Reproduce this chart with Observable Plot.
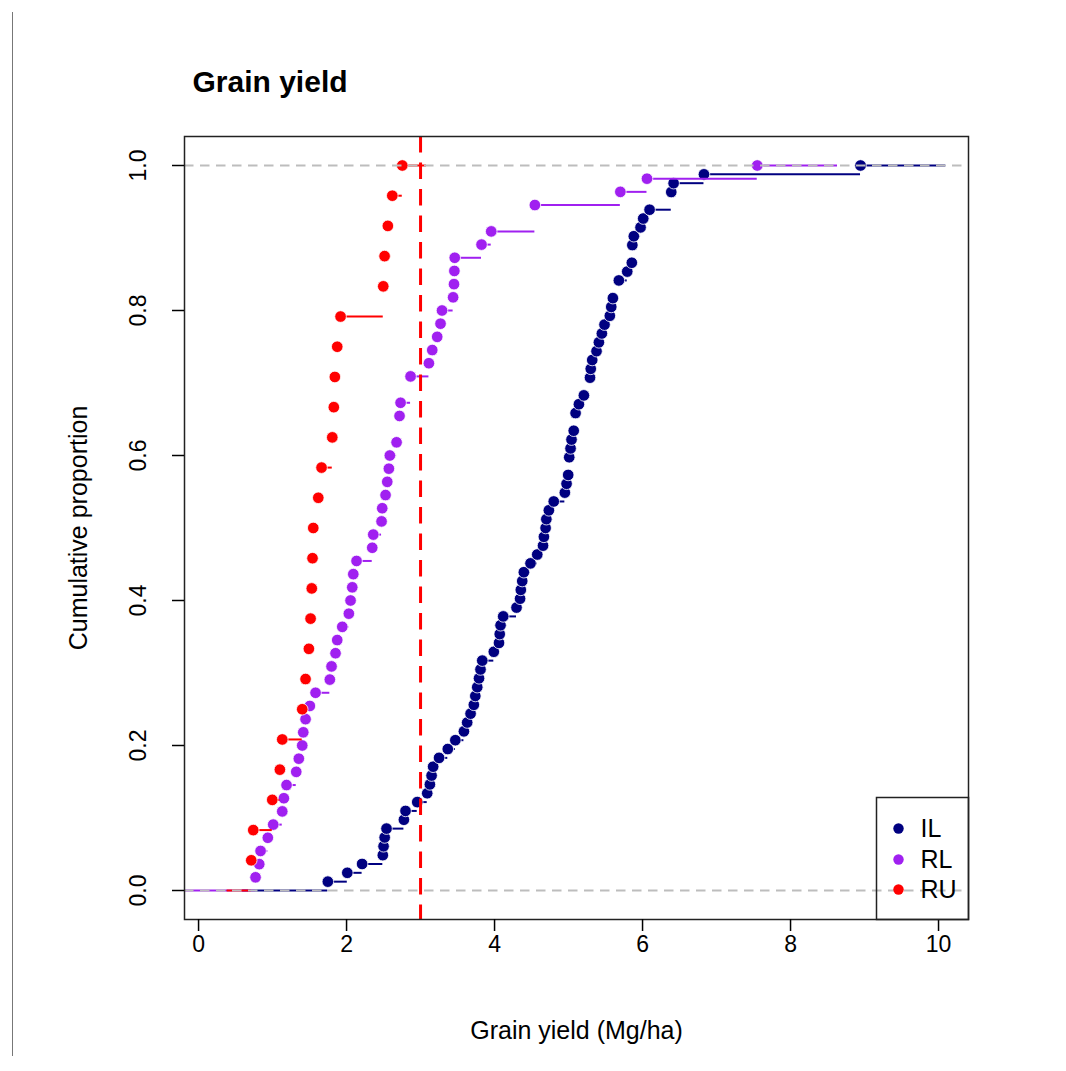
<!DOCTYPE html>
<html><head><meta charset="utf-8">
<script src="https://cdn.jsdelivr.net/npm/d3@7"></script>
<script src="https://cdn.jsdelivr.net/npm/@observablehq/plot@0.6"></script>
<style>
body{margin:0;background:#fff;}
#wrap{position:relative;width:1066px;height:1071px;}
#edge{position:absolute;left:12px;top:12px;width:1px;height:1044px;background:#777;}
</style></head><body><div id="wrap"><div id="edge"></div></div>
<script>
const groups = ["IL", "RL", "RU"];
const groupColors = ["#000080", "#a020f0", "#ff0000"];
const ilYield = [1.747, 2.01, 2.21, 2.49, 2.50, 2.515, 2.54, 2.775, 2.797, 2.955,
  3.09, 3.126, 3.149, 3.17, 3.25, 3.368, 3.47, 3.586, 3.63, 3.676,
  3.72, 3.74, 3.766, 3.79, 3.81, 3.834, 3.99, 4.06, 4.07, 4.081,
  4.117, 4.297, 4.345, 4.355, 4.374, 4.396, 4.486, 4.577, 4.655, 4.667,
  4.69, 4.70, 4.734, 4.80, 4.95, 4.973, 4.995, 5.009, 5.009, 5.027,
  5.04, 5.07, 5.095, 5.095, 5.14, 5.207, 5.29, 5.29, 5.30, 5.32,
  5.378, 5.41, 5.45, 5.486, 5.558, 5.577, 5.599, 5.68, 5.68, 5.793,
  5.855, 5.862, 5.862, 5.882, 5.973, 6.009, 6.095, 6.388, 6.388, 6.42,
  6.83, 8.946];
const rlYield = [0.770, 0.820, 0.838, 0.936, 1.009, 1.131, 1.153, 1.189, 1.320, 1.355,
  1.401, 1.415, 1.446, 1.504, 1.581, 1.774, 1.797, 1.851, 1.874, 1.942,
  2.031, 2.054, 2.077, 2.091, 2.135, 2.347, 2.361, 2.473, 2.482, 2.527,
  2.550, 2.572, 2.585, 2.676, 2.716, 2.716, 2.730, 2.865, 2.865, 3.113,
  3.158, 3.225, 3.27, 3.29, 3.44, 3.452, 3.457, 3.462, 3.824, 3.955,
  4.545, 4.545, 5.70, 6.06, 7.55];
const ruYield = [0.712, 0.739, 0.996, 1.099, 1.131, 1.401, 1.446, 1.491, 1.514, 1.530,
  1.540, 1.550, 1.618, 1.662, 1.807, 1.828, 1.842, 1.874, 1.919, 2.496,
  2.514, 2.558, 2.618, 2.753];
const xTicks = [0, 2, 4, 6, 8, 10];
const yTicks = [0, 0.2, 0.4, 0.6, 0.8, 1.0];
const refLevels = [0, 1];
const threshold = [3];
const titleText = "Grain yield";
const xLabel = "Grain yield (Mg/ha)";
const yLabel = "Cumulative proportion";

const xDomain = [-0.19, 10.405];
const yDomain = [-0.04, 1.04];

// ECDF steps like R's plot.ecdf
function ecdf(values) {
  const v = values.slice().sort((a, b) => a - b);
  const n = v.length;
  const knots = Array.from(new Set(v));
  const F = knots.map(k => v.filter(d => d <= k).length / n);
  const diffs = knots.slice(1).map((k, i) => k - knots[i]);
  const rx = [knots[0], knots[knots.length - 1]];
  const dr = Math.max(0.08 * (rx[1] - rx[0]), d3.median(diffs) || 0);
  const start = Math.max(rx[0] - 2 * dr, xDomain[0]);
  const end = Math.min(rx[1] + 2 * dr, xDomain[1]);
  const points = knots.map((k, i) => ({x: k, y: F[i]}));
  const segs = [{x1: start, x2: knots[0], y: 0}];
  knots.forEach((k, i) => segs.push({x1: k, x2: i + 1 < knots.length ? knots[i + 1] : end, y: F[i]}));
  return {points, segs};
}

const series = [ilYield, rlYield, ruYield].map(ecdf);
const font = "'Liberation Sans', Arial, sans-serif";

const marks = [];
series.forEach((s, i) => {
  marks.push(Plot.ruleY(s.segs, {y: "y", x1: "x1", x2: "x2", stroke: groupColors[i], strokeWidth: 2, clip: true}));
  marks.push(Plot.dot(s.points, {x: "x", y: "y", r: 5.8, fill: groupColors[i], stroke: "white", strokeWidth: 0.8}));
});
marks.push(Plot.ruleY(refLevels, {stroke: "#bdbdbd", strokeWidth: 2, strokeDasharray: "9.5,6.5"}));
marks.push(Plot.ruleX(threshold, {stroke: "#ff0000", strokeWidth: 3, strokeDasharray: "16.5,10"}));
marks.push(Plot.frame({stroke: "#222", strokeWidth: 1.5}));
marks.push(Plot.axisX({ticks: xTicks, tickSize: 12, tickPadding: 4, fontSize: 23, label: null, tickFormat: d => String(d), strokeWidth: 1.5}));
marks.push(Plot.axisY({ticks: yTicks, tickSize: 12, tickFormat: () => "", label: null, strokeWidth: 1.5}));
marks.push(Plot.text(yTicks, {y: d => d, text: d => d.toFixed(1), frameAnchor: "left", dx: -46, rotate: -90, fontSize: 23, textAnchor: "middle", lineAnchor: "middle"}));
marks.push(Plot.text([yLabel], {frameAnchor: "left", dx: -106, rotate: -90, fontSize: 25, textAnchor: "middle", lineAnchor: "middle"}));
marks.push(Plot.text([xLabel], {frameAnchor: "bottom", dy: 111, fontSize: 25, textAnchor: "middle", lineAnchor: "middle"}));
marks.push(Plot.text([titleText], {frameAnchor: "top-left", dx: 8, dy: -45, fontSize: 30, fontWeight: "bold", textAnchor: "start", lineAnchor: "bottom"}));
// legend
marks.push(Plot.frame({insetLeft: 692, insetTop: 661, stroke: "#222", strokeWidth: 1.5}));
const legendRowsDy = [-91, -60, -30];
groups.forEach((g, i) => {
  marks.push(Plot.dot([g], {frameAnchor: "bottom-right", dx: -70, dy: legendRowsDy[i], r: 5.2, fill: groupColors[i]}));
  marks.push(Plot.text([g], {frameAnchor: "bottom-right", dx: -48, dy: legendRowsDy[i], text: d => d, fontSize: 25, textAnchor: "start", lineAnchor: "middle"}));
});

const chart = Plot.plot({
  width: 1066, height: 1071,
  marginLeft: 184, marginRight: 98, marginTop: 136, marginBottom: 152,
  x: {domain: xDomain},
  y: {domain: yDomain},
  style: {fontFamily: font, background: "white", color: "black", fontSize: "23px"},
  marks
});
document.getElementById("wrap").appendChild(chart);
chart.style.position = "absolute";
chart.style.left = "0px";
chart.style.top = "0px";
document.getElementById("edge").style.zIndex = 2;
</script>
</body></html>
